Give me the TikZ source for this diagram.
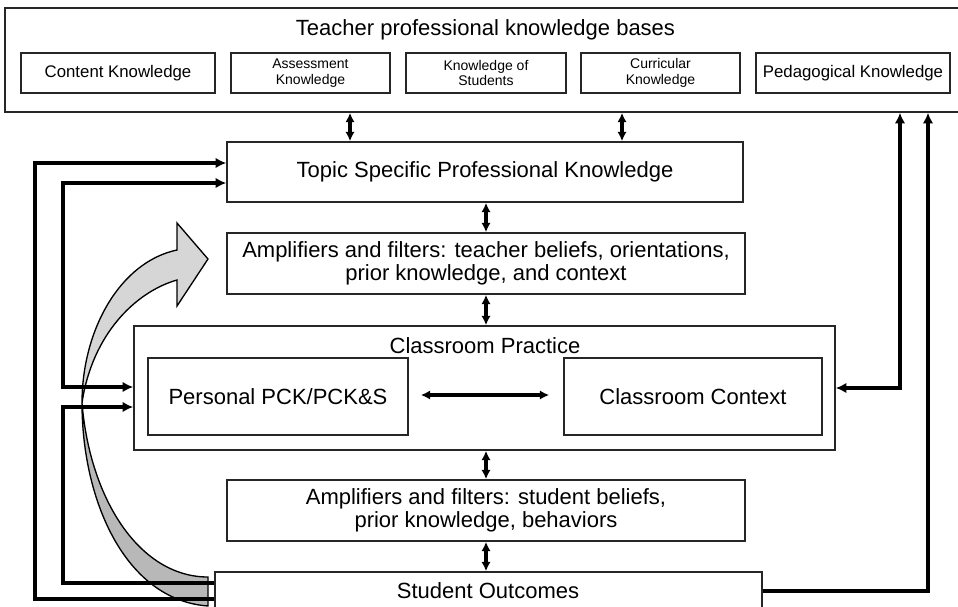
\documentclass[tikz,border=0pt]{standalone}
\usepackage{fontspec}
\setmainfont{Liberation Sans}
\usetikzlibrary{arrows.meta}
\begin{document}
\begin{tikzpicture}[x=0.75pt,y=-0.75pt,
  box/.style={draw=black!85,line width=1.2pt,rectangle,inner sep=0pt,align=center,
    font=\fontsize{16.5}{17.5}\selectfont},
  kbox/.style={box,font=\fontsize{12.6}{14}\selectfont},
  sbox/.style={box,font=\fontsize{10.5}{11.8}\selectfont},
  dbl/.style={line width=2.4pt,{Latex[length=7pt,width=7pt]}-{Latex[length=7pt,width=7pt]}},
  fb/.style={line width=2.8pt,-{Latex[length=8pt,width=8pt]}},
  fbb/.style={line width=2.8pt,{Latex[length=8pt,width=8pt]}-{Latex[length=8pt,width=8pt]}},
  lbl/.style={font=\fontsize{16.5}{17.5}\selectfont,inner sep=0pt,anchor=base},
  ribbon/.style={draw=black,line width=1pt}
]
\useasboundingbox (0,0) rectangle (958,607);
\clip (0,0) rectangle (958,607);
\fill[white] (0,0) rectangle (958,607);

% top knowledge bases
\node[box,minimum width=720pt,minimum height=78pt] (tpkb) at (485,60) {};
\node[lbl] (tpkbtitle) at (485.5,35) {Teacher professional knowledge bases};
\node[kbox,minimum width=145.5pt,minimum height=30pt] (ck) at (118,73) {Content Knowledge};
\node[sbox,minimum width=119.25pt,minimum height=30pt] (ak) at (310.5,73) {Assessment\\Knowledge};
\node[sbox,minimum width=120pt,minimum height=30pt] (ks) at (486,73) {Knowledge of\\Students};
\node[sbox,minimum width=119.25pt,minimum height=30pt] (cuk) at (660.5,73) {Curricular\\Knowledge};
\node[kbox,minimum width=145.5pt,minimum height=30pt] (pk) at (853,73) {Pedagogical Knowledge};

% main column
\node[box,minimum width=387pt,minimum height=45pt] (tspk) at (485,172) {Topic Specific Professional Knowledge};
\node[box,minimum width=388.5pt,minimum height=45.75pt] (ampt) at (486,263.5)
  {Amplifiers and filters: teacher beliefs, orientations,\\prior knowledge, and context};
\node[box,minimum width=525.75pt,minimum height=93pt] (cp) at (484.5,388) {};
\node[lbl] (cptitle) at (485,353) {Classroom Practice};
\node[box,minimum width=195pt,minimum height=57.75pt] (pers) at (278,396.5) {Personal PCK/PCK\&S};
\node[box,minimum width=193.5pt,minimum height=57.75pt] (cc) at (693,396.5) {Classroom Context};
\node[box,minimum width=388.5pt,minimum height=45.75pt] (amps) at (486,510.5)
  {Amplifiers and filters: student beliefs,\\prior knowledge, behaviors};
\node[box,minimum width=410.25pt,minimum height=51pt] (so) at (488.5,606) {};
\node[lbl] (sotext) at (488,598) {Student Outcomes};

% curved grey ribbon arrow
\coordinate (tw) at (82,403);
\path[ribbon,fill=black!28] (tw) .. controls (82,500) and (125,600) .. (208,606)
  -- (208,577) .. controls (140,577) and (90,500) .. (tw) -- cycle;
\path[ribbon,fill=black!16] (tw) .. controls (82,330) and (120,262) .. (177,250)
  -- (177,223) -- (208,259) -- (177,306) -- (177,280)
  .. controls (135,292) and (92,335) .. (tw) -- cycle;

% vertical double arrows
\draw[dbl] (tpkb.south -| 350,0) -- (tspk.north -| 350,0);
\draw[dbl] (tpkb.south -| 622,0) -- (tspk.north -| 622,0);
\draw[dbl] (tspk.south -| 486,0) -- (ampt.north -| 486,0);
\draw[dbl] (ampt.south -| 486,0) -- (cp.north -| 486,0);
\draw[dbl] (cp.south -| 486,0) -- (amps.north -| 486,0);
\draw[dbl] (amps.south -| 486,0) -- (so.north -| 486,0);
\draw[dbl,shorten <=9pt,shorten >=10.5pt] (pers.east |- 0,395) -- (cc.west |- 0,395);

% feedback lines
\draw[fb] (so.west |- 0,599) -| (35,163) -- (tspk.west |- 0,163);
\draw[fb] (so.west |- 0,583) -| (63,407) -- (cp.west |- 0,407);
\draw[fbb] (tspk.west |- 0,183) -| (63,387) -- (cp.west |- 0,387);
\draw[fbb] (cp.east |- 0,388) -| (tpkb.south -| 900,0);
\draw[fb] (so.east |- 0,591) -| (tpkb.south -| 928,0);
\end{tikzpicture}
\end{document}
